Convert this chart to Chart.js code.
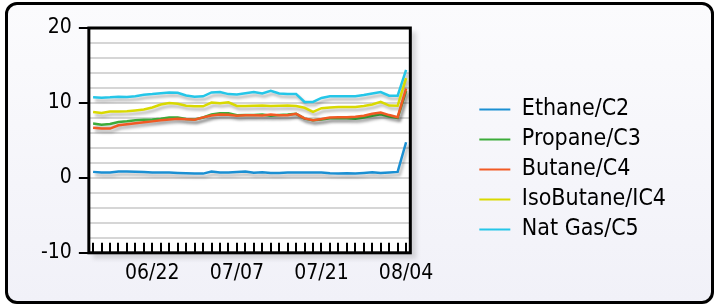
<!DOCTYPE html>
<html>
<head>
<meta charset="utf-8">
<script src="https://cdn.jsdelivr.net/npm/chart.js@4.4.0/dist/chart.umd.min.js"></script>
<style>
  html, body { margin: 0; padding: 0; background: #fff; }
  #frame {
    position: absolute; left: 5px; top: 2px; width: 703px; height: 296px;
    border: 3px solid #000; border-radius: 12px;
    background: linear-gradient(#fbfbfd, #f1f1f8);
  }
  #wrap { position: absolute; left: 0; top: 0; width: 717px; height: 305px; }
</style>
</head>
<body>
<div id="frame"></div>
<div id="wrap"><canvas id="chart" width="717" height="305"></canvas></div>
<script>
// trading days, 07/03 holiday skipped
const dates = [
  "06/11", "06/12", "06/15", "06/16", "06/17", "06/18", "06/19", "06/22", "06/23", "06/24",
  "06/25", "06/26", "06/29", "06/30", "07/01", "07/02", "07/06", "07/07", "07/08", "07/09",
  "07/10", "07/13", "07/14", "07/15", "07/16", "07/17", "07/20", "07/21", "07/22", "07/23",
  "07/24", "07/27", "07/28", "07/29", "07/30", "07/31", "08/03", "08/04"
];
const shownDates = ["06/22", "07/07", "07/21", "08/04"];
const yLabels = [-10, 0, 10, 20];

const ethane = [
  0.8, 0.72, 0.72, 0.85, 0.85, 0.8, 0.77, 0.73, 0.72, 0.72,
  0.66, 0.62, 0.57, 0.57, 0.85, 0.73, 0.7, 0.77, 0.85, 0.68,
  0.75, 0.66, 0.66, 0.7, 0.7, 0.7, 0.73, 0.72, 0.62, 0.58,
  0.62, 0.57, 0.65, 0.75, 0.66, 0.72, 0.8, 4.75
];
const propane = [
  7.25, 7.1, 7.2, 7.45, 7.55, 7.7, 7.75, 7.8, 7.9, 8.05,
  8.05, 7.85, 7.8, 8.05, 8.45, 8.62, 8.62, 8.35, 8.4, 8.4,
  8.45, 8.3, 8.4, 8.45, 8.55, 7.9, 7.7, 7.8, 7.95, 7.95,
  7.95, 7.9, 8.05, 8.3, 8.5, 8.2, 8.0, 11.6
];
const butane = [
  6.7, 6.58, 6.58, 7.02, 7.15, 7.28, 7.41, 7.54, 7.68, 7.8,
  7.9, 7.82, 7.76, 8.07, 8.33, 8.46, 8.42, 8.29, 8.37, 8.37,
  8.33, 8.46, 8.37, 8.37, 8.55, 7.94, 7.68, 7.85, 8.07, 8.1,
  8.1, 8.16, 8.29, 8.55, 8.73, 8.38, 8.1, 11.9
];
const isobutane = [
  8.8, 8.65, 8.85, 8.87, 8.9, 9.0, 9.12, 9.4, 9.78, 10.0,
  9.88, 9.62, 9.55, 9.55, 10.05, 9.95, 10.08, 9.6, 9.6, 9.62,
  9.65, 9.6, 9.62, 9.65, 9.6, 9.35, 8.82, 9.3, 9.4, 9.45,
  9.45, 9.45, 9.6, 9.8, 10.14, 9.65, 9.62, 13.3
];
const natgas = [
  10.75, 10.7, 10.75, 10.83, 10.8, 10.88, 11.1, 11.18, 11.3, 11.4,
  11.36, 11.0, 10.83, 10.88, 11.4, 11.45, 11.18, 11.14, 11.3, 11.45,
  11.27, 11.62, 11.27, 11.18, 11.18, 10.13, 10.13, 10.66, 10.88, 10.88,
  10.88, 10.88, 11.05, 11.27, 11.45, 10.96, 10.96, 14.4
];

const seriesNames = ["Ethane/C2", "Propane/C3", "Butane/C4", "IsoButane/IC4", "Nat Gas/C5"];
const seriesData = [ethane, propane, butane, isobutane, natgas];
const seriesColors = ["#1b8fd2", "#3cab3a", "#f15a24", "#d9d900", "#25c6e8"];
const drawOrder = [0, 2, 1, 3, 4]; // butane sits on top of propane

const FONT = "'DejaVu Sans Condensed', 'DejaVu Sans', sans-serif";
const LEGEND_SHIFT = -38;

const framePlugin = {
  id: "frame",
  beforeDraw(chart) {
    const { ctx, chartArea: a } = chart;
    ctx.save();
    ctx.filter = "blur(2px)";
    ctx.fillStyle = "rgba(0,0,0,0.13)";
    ctx.fillRect(a.left + 4, a.top + 4, a.width + 2, a.height + 2);
    ctx.filter = "none";
    ctx.fillStyle = "#fff";
    ctx.fillRect(a.left, a.top, a.width, a.height);
    ctx.restore();
  },
  beforeDatasetsDraw(chart) {
    const ctx = chart.ctx;
    ctx.save();
    ctx.shadowColor = "rgba(0,0,0,0.3)";
    ctx.shadowOffsetX = 2;
    ctx.shadowOffsetY = 3;
    ctx.shadowBlur = 3;
  },
  afterDatasetsDraw(chart) {
    const { ctx, chartArea: a } = chart;
    ctx.restore();
    const xs = chart.scales.x;
    ctx.save();
    ctx.strokeStyle = "#000";
    ctx.lineWidth = 2;
    ctx.beginPath();
    for (let i = 0; i < xs.ticks.length; i++) {
      const x = Math.round(xs.getPixelForTick(i));
      ctx.moveTo(x, a.bottom);
      ctx.lineTo(x, a.bottom - 10);
    }
    ctx.stroke();
    ctx.lineWidth = 3;
    ctx.strokeRect(a.left, a.top, a.width, a.height);
    ctx.restore();
  },
  afterLayout(chart) {
    const l = chart.legend;
    if (l) { l.top += LEGEND_SHIFT; l.bottom += LEGEND_SHIFT; }
  }
};

new Chart(document.getElementById("chart"), {
  type: "line",
  data: {
    labels: dates,
    datasets: seriesNames.map((name, i) => ({
      label: name,
      data: seriesData[i],
      borderColor: seriesColors[i],
      backgroundColor: seriesColors[i],
      borderWidth: 2.5,
      pointRadius: 0,
      tension: 0,
      order: drawOrder[i]
    }))
  },
  options: {
    responsive: false,
    animation: false,
    layout: { padding: { left: 34, right: 41, top: 28, bottom: 19 } },
    plugins: {
      tooltip: { enabled: false },
      legend: {
        position: "right",
        align: "end",
        maxWidth: 260,
        labels: {
          boxWidth: 31,
          boxHeight: 2,
          padding: 7,
          color: "#000",
          font: { family: FONT, size: 23 },
          generateLabels: (chart) => chart.data.datasets.map((d, i) => ({
            text: d.label,
            fillStyle: d.borderColor,
            strokeStyle: d.borderColor,
            lineWidth: 0,
            hidden: false,
            datasetIndex: i,
            fontColor: "#000"
          }))
        }
      }
    },
    scales: {
      x: {
        offset: true,
        grid: { display: false },
        border: { display: false },
        ticks: {
          autoSkip: false,
          maxRotation: 0,
          padding: 0,
          color: "#000",
          font: { family: FONT, size: 21 },
          callback: (v, i) => (shownDates.includes(dates[i]) ? dates[i] : "")
        }
      },
      y: {
        min: -10,
        max: 20,
        border: { display: false },
        grid: {
          color: "#d6d6d6",
          lineWidth: 2,
          tickLength: 10,
          tickWidth: 2,
          tickColor: (c) => (c.tick && yLabels.includes(c.tick.value) ? "#000" : "rgba(0,0,0,0)")
        },
        ticks: {
          stepSize: 2,
          autoSkip: false,
          padding: 7,
          color: "#000",
          font: { family: FONT, size: 21 },
          callback: (v) => (yLabels.includes(v) ? String(v) : "")
        }
      },
      pad: {
        type: "linear",
        position: "right",
        display: true,
        grid: { display: false },
        border: { display: false },
        ticks: { display: false },
        afterFit: (s) => { s.width = 62; }
      }
    }
  },
  plugins: [framePlugin]
});
</script>
</body>
</html>
